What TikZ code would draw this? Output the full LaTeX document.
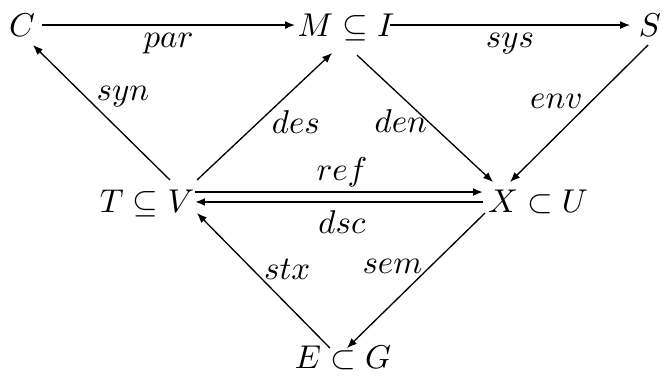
\documentclass[tikz,border=0pt]{standalone}
\usepackage{amsmath}
\usepackage{tikz}
\usetikzlibrary{arrows.meta}

\begin{document}
\begin{tikzpicture}[
  obj/.style={anchor=base, inner sep=1pt},
  map/.style={-{Latex[length=3pt, width=2.4pt]}, thin},
  pair/.style={map, semithick},
  lbl/.style={inner sep=0pt},
]
  \useasboundingbox (0,0) rectangle (7.110,-4.019);

  % Objects
  \node[obj] (C)  at (0.235,-0.384) {$C$};
  \node[obj] (MI) at (3.688,-0.384) {$M \subseteq I$};
  \node[obj] (S)  at (6.929,-0.384) {$S$};
  \node[obj] (TV) at (1.567,-2.260) {$T \subseteq V$};
  \node[obj] (XU) at (5.735,-2.260) {$X \subset U$};
  \node[obj] (EG) at (3.656,-3.923) {$E \subset G$};

  % Top row
  \draw[map] ([shift={(0.213,0.117)}]C.base) -- node[lbl, below=2.4pt] {$par$} ([shift={(-0.544,0.117)}]MI.base);
  \draw[map] ([shift={(0.469,0.117)}]MI.base) -- node[lbl, below=2.4pt] {$sys$} ([shift={(-0.213,0.117)}]S.base);

  % Upper diagonals
  \draw[map] ([shift={(0.245,0.341)}]TV.base) -- node[lbl, pos=0.54, anchor=south west] {$syn$} ([shift={(0.117,-0.096)}]C.base);
  \draw[map] ([shift={(0.533,0.341)}]TV.base) -- node[lbl, pos=0.55, anchor=north west] {$des$} ([shift={(-0.149,-0.181)}]MI.base);
  \draw[map] ([shift={(0.117,-0.203)}]MI.base) -- node[lbl, pos=0.52, anchor=east] {$den$} ([shift={(-0.480,0.320)}]XU.base);
  \draw[map] ([shift={(-0.021,-0.096)}]S.base) -- node[lbl, pos=0.47, anchor=south east] {$env$} ([shift={(-0.298,0.320)}]XU.base);

  % Middle pair
  \draw[pair] ([shift={(0.512,0.213)}]TV.base) -- node[lbl, pos=0.51, above=1.4pt] {$ref$} ([shift={(-0.586,0.213)}]XU.base);
  \draw[pair] ([shift={(-0.586,0.107)}]XU.base) -- node[lbl, pos=0.49, below=2.4pt] {$dsc$} ([shift={(0.512,0.107)}]TV.base);

  % Lower diagonals
  \draw[map] ([shift={(-0.139,0.213)}]EG.base) -- node[lbl, pos=0.50, anchor=south west] {$stx$} ([shift={(0.533,-0.011)}]TV.base);
  \draw[map] ([shift={(-0.565,-0.011)}]XU.base) -- node[lbl, pos=0.45, anchor=south east] {$sem$} ([shift={(0.043,0.213)}]EG.base);
\end{tikzpicture}
\end{document}
